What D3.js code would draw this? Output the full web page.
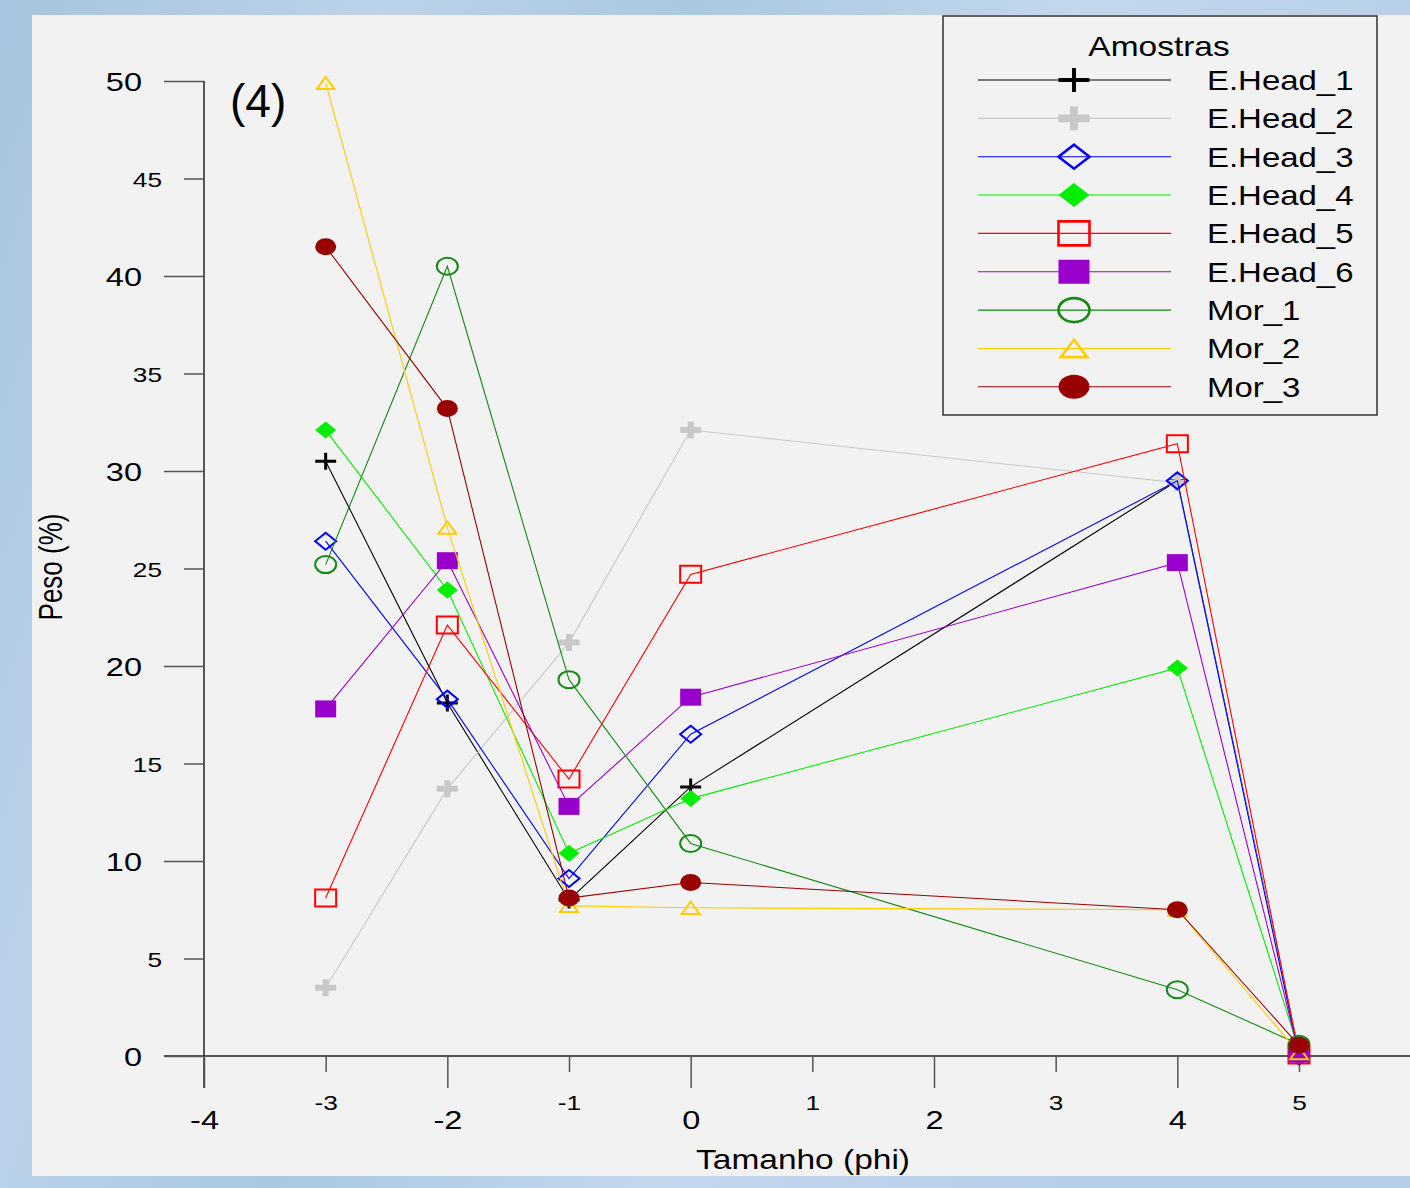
<!DOCTYPE html>
<html>
<head>
<meta charset="utf-8">
<script src="https://cdn.jsdelivr.net/npm/d3@7/dist/d3.min.js"></script>
<style>
html, body { margin: 0; padding: 0; overflow: hidden; }
body { width: 1410px; height: 1188px; }
text { font-family: "Liberation Sans", Arial, sans-serif; fill: #000; }
</style>
</head>
<body>
<div id="chart"></div>
<script>
// valores (Peso % por classe de tamanho phi)
var phi = [-3, -2, -1, 0, 4, 5];
var amostras = ["E.Head_1", "E.Head_2", "E.Head_3", "E.Head_4", "E.Head_5", "E.Head_6", "Mor_1", "Mor_2", "Mor_3"];

var eHead1 = [30.5, 18.1, 8.0, 13.8, 29.5, 0.2];
var eHead2 = [3.5, 13.7, 21.2, 32.1, 29.4, 0.2];
var eHead3 = [26.4, 18.3, 9.1, 16.5, 29.5, 0.0];
var eHead4 = [32.1, 23.9, 10.4, 13.2, 19.9, 0.3];
var eHead5 = [8.1, 22.1, 14.2, 24.7, 31.4, 0.05];
var eHead6 = [17.8, 25.4, 12.8, 18.4, 25.3, 0.1];
var mor1 = [25.2, 40.5, 19.3, 10.9, 3.4, 0.6];
var mor2 = [49.9, 27.1, 7.7, 7.6, 7.5, 0.15];
var mor3 = [41.5, 33.2, 8.1, 8.9, 7.5, 0.55];
var valores = [eHead1, eHead2, eHead3, eHead4, eHead5, eHead6, mor1, mor2, mor3];

var xMajor = [-4, -2, 0, 2, 4];
var xMinor = [-3, -1, 1, 3, 5];
var yMajor = [0, 10, 20, 30, 40, 50];
var yMinor = [5, 15, 25, 35, 45];

// estilos de cada série
var cores = ["#000000", "#c8c8c8", "#0000ff", "#00ee00", "#ff0000", "#9900cc", "#138a13", "#ffcc00", "#990000"];
var formas = ["plus", "plus", "diamond", "diamond", "square", "square", "circle", "triangle", "circle"];
var cheio = [false, false, false, true, false, true, false, false, true];
var traco = [3, 6, 2, 0, 2, 0, 2, 2, 0];

var W = 1410, H = 1188, SX = 1.25;

var svg = d3.select("#chart").append("svg")
    .attr("width", W)
    .attr("height", H);

// fundo azul tipo papel de parede
var grad = svg.append("defs").append("linearGradient")
    .attr("id", "fundo").attr("x1", 0).attr("y1", 0).attr("x2", 1).attr("y2", 0.3);
[["0", "#a6c4df"], ["0.25", "#bcd2ea"], ["0.45", "#a9c8e2"], ["0.7", "#c3d7ed"], ["1", "#b6cde8"]].forEach(function(s){
    grad.append("stop").attr("offset", s[0]).attr("stop-color", s[1]);
});
svg.append("rect").attr("width", W).attr("height", H).attr("fill", "url(#fundo)");
svg.append("rect").attr("x", 32).attr("y", 15).attr("width", W - 32).attr("height", 1161).attr("fill", "#f2f2f2");

var x = d3.scaleLinear().domain([-4, 5]).range([204, 1299]);
var y = d3.scaleLinear().domain([0, 50]).range([1056, 81]);

function marcador(tipo, w, h){
    var a = w / 2, b = h / 2;
    if(tipo === "plus") return "M" + (-a) + ",0H" + a + "M0," + (-b) + "V" + b;
    if(tipo === "diamond") return "M0," + (-b) + "L" + a + ",0L0," + b + "L" + (-a) + ",0Z";
    if(tipo === "square") return "M" + (-a) + "," + (-b) + "h" + w + "v" + h + "h" + (-w) + "Z";
    if(tipo === "triangle"){
        a = a * 0.85; b = b * 0.72;
        return "M0," + (-b) + "L" + a + "," + b + "L" + (-a) + "," + b + "Z";
    }
    return "M" + (-a) + ",0A" + a + "," + b + " 0 1,0 " + a + ",0A" + a + "," + b + " 0 1,0 " + (-a) + ",0Z";
}

function desenhaMarcador(g, i, w, h){
    var p = g.append("path").attr("d", marcador(formas[i], w, h));
    if(cheio[i]) p.attr("fill", cores[i]).attr("stroke", "none");
    else p.attr("fill", "none").attr("stroke", cores[i]).attr("stroke-width", traco[i] * (w > 25 ? 1.3 : 1));
}

// eixos
var eixos = svg.append("g");
eixos.append("line").attr("x1", 164).attr("x2", W).attr("y1", y(0)).attr("y2", y(0))
    .attr("stroke", "#222").attr("stroke-width", 1.5);
eixos.append("line").attr("x1", x(-4)).attr("x2", x(-4)).attr("y1", y(50)).attr("y2", y(0) + 32)
    .attr("stroke", "#222").attr("stroke-width", 1.5);

function rotulo(d){ return String(d); } // hífen simples como no original

function eixoY(valores, tam, fonte){
    var g = svg.append("g").attr("transform", "translate(" + x(-4) + ",0)")
        .call(d3.axisLeft(y).tickValues(valores).tickSize(tam).tickPadding(0).tickFormat(rotulo));
    g.select(".domain").remove();
    g.selectAll(".tick line").attr("stroke", "#555").attr("stroke-width", 1.5);
    g.selectAll(".tick text")
        .attr("x", 0).attr("dy", "0.36em")
        .attr("transform", "translate(" + (-(tam + 22)) + ",0) scale(" + SX + ",1)")
        .style("font-size", fonte + "px").style("font-family", "'Liberation Sans', Arial, sans-serif").attr("fill", "#000");
}
eixoY(yMajor, 40, 26);
eixoY(yMinor, 20, 21);

function eixoX(valores, tam, fonte, centro){
    var g = svg.append("g").attr("transform", "translate(0," + y(0) + ")")
        .call(d3.axisBottom(x).tickValues(valores).tickSize(tam).tickPadding(0).tickFormat(rotulo));
    g.select(".domain").remove();
    g.selectAll(".tick line").attr("stroke", "#555").attr("stroke-width", 1.5);
    g.selectAll(".tick text")
        .attr("y", 0).attr("dy", "0.36em")
        .attr("transform", "translate(0," + centro + ") scale(" + SX + ",1)")
        .style("font-size", fonte + "px").style("font-family", "'Liberation Sans', Arial, sans-serif").attr("fill", "#000");
}
eixoX(xMajor, 32, 26, 64);
eixoX(xMinor, 16, 21, 46);

svg.append("text")
    .attr("transform", "translate(803,1169) scale(1.24,1)")
    .attr("text-anchor", "middle").style("font-size", "27px")
    .text("Tamanho (phi)");

svg.append("text")
    .attr("transform", "translate(62,567) scale(1.25,1) rotate(-90)")
    .attr("text-anchor", "middle").style("font-size", "26px")
    .text("Peso (%)");

svg.append("text")
    .attr("x", 230).attr("y", 117)
    .style("font-size", "46px")
    .text("(4)");

// séries
var linha = d3.line()
    .x(function(d, j){ return x(phi[j]); })
    .y(function(d){ return y(d); });

valores.forEach(function(serie, i){
    var g = svg.append("g");
    g.append("path").attr("d", linha(serie))
        .attr("fill", "none").attr("stroke", cores[i]).attr("stroke-width", 1.1);
    serie.forEach(function(v, j){
        var m = g.append("g").attr("transform", "translate(" + x(phi[j]) + "," + y(v) + ")");
        desenhaMarcador(m, i, 21, 17);
    });
});

// legenda
var leg = svg.append("g");
leg.append("rect").attr("x", 943).attr("y", 16).attr("width", 434).attr("height", 399)
    .attr("fill", "#f2f2f2").attr("stroke", "#333").attr("stroke-width", 1.5);
leg.append("text")
    .attr("transform", "translate(1159,56) scale(1.24,1)")
    .attr("text-anchor", "middle").style("font-size", "27px")
    .text("Amostras");

amostras.forEach(function(nome, i){
    var yy = 80 + i * 38.35;
    leg.append("line").attr("x1", 978).attr("x2", 1171).attr("y1", yy).attr("y2", yy)
        .attr("stroke", cores[i]).attr("stroke-width", 1.1);
    var m = leg.append("g").attr("transform", "translate(1074," + yy + ")");
    desenhaMarcador(m, i, 31, 24);
    leg.append("text")
        .attr("transform", "translate(1207," + (yy + 10) + ") scale(1.22,1)")
        .style("font-size", "27px")
        .text(nome);
});
</script>
</body>
</html>
